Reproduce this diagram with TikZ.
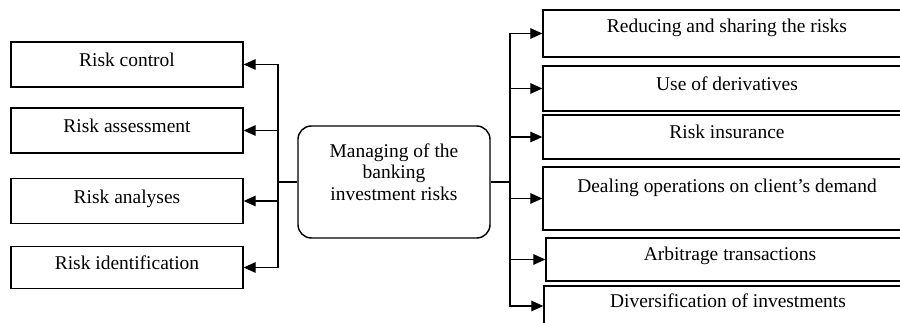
\documentclass[tikz,border=0pt]{standalone}
\usepackage{fontspec}
\setmainfont{Liberation Serif}
\usepackage{tikz}
\usetikzlibrary{arrows.meta,positioning}

\begin{document}
\begin{tikzpicture}[x=0.75pt, y=-0.75pt, font=\fontsize{14.6}{16.2}\selectfont,
			box/.style={draw, line width=1.1pt, minimum width=174pt, minimum height=33.5pt, inner sep=2pt, text depth=7pt},
			rbox/.style={draw, line width=1.1pt, minimum width=276pt, inner sep=2pt, text depth=8pt},
			arr/.style={-{Triangle[length=9pt, width=8pt]}, line width=0.8pt}]
			\path[use as bounding box, clip] (0,0) rectangle (900,323);
			
			\node[draw, rounded corners=10pt, line width=1.1pt, minimum width=144pt, minimum height=84pt, align=center, text depth=15pt] (mng) at (394,182) {Managing of the\\ banking\\ investment risks};
			
			\node[box] (ctrl) at (127,64.5) {Risk control};
			\node[box] (asse) at (127,130.5) {Risk assessment};
			\node[box] (anal) at (127,201) {Risk analyses};
			\node[box, minimum height=31.5pt] (iden) at (127,267.5) {Risk identification};
			
			\node[rbox, minimum height=35pt, text depth=11pt] (redu) at (727,33.5) {Reducing and sharing the risks};
			\node[rbox, minimum height=33.5pt] (deri) at (727,88.5) {Use of derivatives};
			\node[rbox, minimum height=33pt] (insu) at (727,137) {Risk insurance};
			\node[rbox, minimum height=47pt, text depth=19pt] (deal) at (727,198.5) {Dealing operations on client’s demand};
			\node[rbox, minimum height=32pt] (arbi) at (730,259.5) {Arbitrage transactions};
			\node[rbox, minimum height=30pt] (dive) at (728,306) {Diversification of investments};
			
			\coordinate (lbus) at (278,182);
			\coordinate (rbus) at (510,182);
			
			\draw[line width=0.8pt] (mng.west) -- (lbus);
			\draw[line width=0.8pt] (mng.east) -- (rbus);
			\foreach \b in {ctrl,asse,anal,iden}
				\draw[arr] (lbus) |- (\b.east);
			\foreach \b in {redu,deri,insu,deal,arbi,dive}
				\draw[arr] (rbus) |- (\b.west);
		\end{tikzpicture}
\end{document}
